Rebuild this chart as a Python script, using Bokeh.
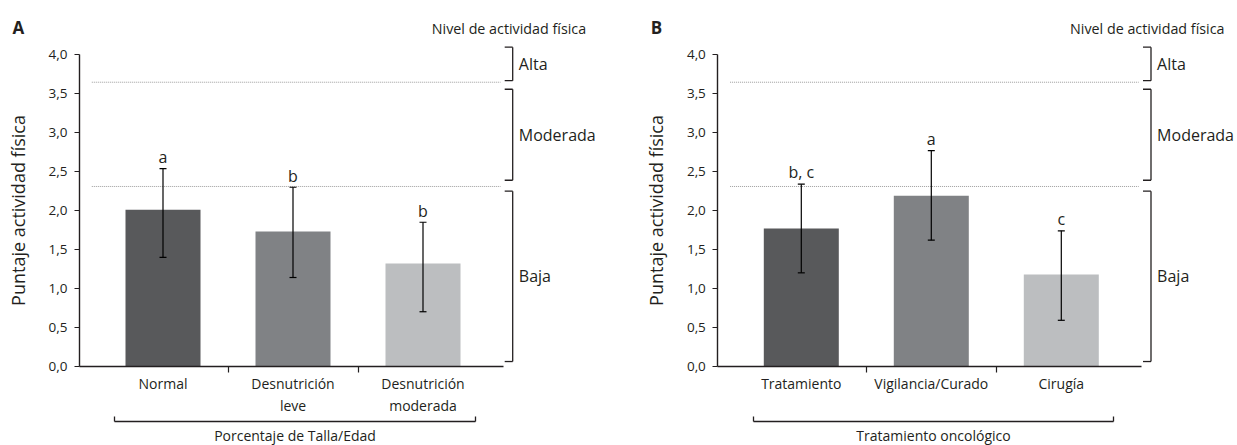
from bokeh.plotting import figure
from bokeh.models import (ColumnDataSource, FixedTicker, CustomJSTickFormatter,
                          LinearAxis, Range1d)
from bokeh.layouts import row
from bokeh.embed import file_html
from bokeh.resources import INLINE
from bokeh.core.properties import value

# ---------------- data ----------------
cats_a = ["Normal", "Desnutrición\nleve", "Desnutrición\nmoderada"]
means_a = [2.01, 1.73, 1.32]
lower_a = [1.40, 1.14, 0.70]
upper_a = [2.54, 2.30, 1.85]
letters_a = ["a", "b", "b"]
group_a = "Porcentaje de Talla/Edad"

cats_b = ["Tratamiento", "Vigilancia/Curado", "Cirugía"]
means_b = [1.77, 2.19, 1.18]
lower_b = [1.20, 1.62, 0.59]
upper_b = [2.34, 2.77, 1.74]
letters_b = ["b, c", "a", "c"]
group_b = "Tratamiento oncológico"

bar_colors = ["#58595b", "#808285", "#bcbec0"]
level_names = ["Baja", "Moderada", "Alta"]
level_lo = [0.06, 2.39, 3.67]
level_hi = [2.25, 3.56, 4.10]
cutoffs = [2.31, 3.65]
y_ticks = [0.0, 0.5, 1.0, 1.5, 2.0, 2.5, 3.0, 3.5, 4.0]
level_title = "Nivel de actividad física"
y_title = "Puntaje actividad física"

# ---------------- style ----------------
FONT = "Open Sans"
INK = "#231f20"
PX_X = 130.0           # pixels per category unit
PX_Y = 77.8            # pixels per score unit
H = 445
Y_TOP = 4.7005
Y_BOT = Y_TOP - H / PX_Y
X_AX = (-0.642, 2.617)         # x-axis extent
BRACKET = (-0.371, 2.401)      # bottom bracket extent
BRACKET_Y = -0.711
LEVEL_X = 2.69
DOT_X = (-0.5477, 2.596)


def make_panel(letter, cats, means, lower, upper, letters, group, width, x_start):
    p = figure(width=width, height=H, output_backend="svg", toolbar_location=None,
               title=None, x_range=Range1d(x_start, x_start + width / PX_X),
               y_range=Range1d(Y_BOT, Y_TOP), min_border=0, min_border_left=0,
               min_border_right=0, min_border_top=0, min_border_bottom=0)
    p.outline_line_color = None
    p.grid.visible = False
    p.background_fill_color = "white"
    p.border_fill_color = "white"

    xs = list(range(len(cats)))

    # y axis
    ya = p.yaxis[0]
    ya.fixed_location = X_AX[0]
    ya.ticker = FixedTicker(ticks=y_ticks)
    ya.formatter = CustomJSTickFormatter(code="return tick.toFixed(1).replace('.', ',');")
    ya.bounds = (0, 4)
    ya.axis_line_color = INK
    ya.axis_line_width = 1.4
    ya.major_tick_line_color = INK
    ya.major_tick_line_width = 1.2
    ya.major_tick_out = 5
    ya.major_tick_in = 0
    ya.minor_tick_line_color = None
    ya.major_label_text_font = FONT
    ya.major_label_text_font_size = "13.5px"
    ya.major_label_text_color = INK
    ya.major_label_standoff = 7
    ya.axis_label = y_title
    ya.axis_label_text_font = FONT
    ya.axis_label_text_font_size = "18px"
    ya.axis_label_text_font_style = "normal"
    ya.axis_label_text_color = INK
    ya.axis_label_standoff = 16

    # x axis (categories)
    xa = p.xaxis[0]
    xa.fixed_location = 0
    xa.ticker = FixedTicker(ticks=xs, minor_ticks=[0.5, 1.5])
    xa.major_label_overrides = {i: c for i, c in enumerate(cats)}
    xa.bounds = X_AX
    xa.axis_line_color = INK
    xa.axis_line_width = 1.4
    xa.major_tick_line_color = None
    xa.major_tick_out = 0
    xa.major_tick_in = 0
    xa.minor_tick_line_color = INK
    xa.minor_tick_line_width = 1.2
    xa.minor_tick_out = 6
    xa.minor_tick_in = 0
    xa.major_label_text_font = FONT
    xa.major_label_text_font_size = "14px"
    xa.major_label_text_line_height = 1.15
    xa.major_label_text_color = INK
    xa.major_label_standoff = 2

    # bottom bracket with group label (second x axis)
    ba = LinearAxis(fixed_location=BRACKET_Y, bounds=BRACKET,
                    ticker=FixedTicker(ticks=list(BRACKET)),
                    formatter=CustomJSTickFormatter(code="return '';"))
    ba.axis_line_color = INK
    ba.axis_line_width = 1.3
    ba.major_tick_line_color = INK
    ba.major_tick_line_width = 1.3
    ba.major_tick_in = 5
    ba.major_tick_out = 0
    ba.minor_tick_line_color = None
    ba.major_label_standoff = 0
    ba.axis_label = group
    ba.axis_label_text_font = FONT
    ba.axis_label_text_font_size = "14px"
    ba.axis_label_text_font_style = "normal"
    ba.axis_label_text_color = INK
    ba.axis_label_standoff = 4
    p.add_layout(ba, "below")

    # dotted cut-off lines
    p.segment(x0=[DOT_X[0]] * len(cutoffs), x1=[DOT_X[1]] * len(cutoffs), y0=cutoffs, y1=cutoffs,
              line_color="#9c9c9c", line_width=1, line_dash="1 1")

    # bars
    src = ColumnDataSource(dict(x=xs, top=means, lo=lower, hi=upper, lab=letters,
                                laby=[h + 0.15 for h in upper], color=bar_colors))
    p.vbar(x="x", top="top", width=75 / PX_X, fill_color="color", line_color=None, source=src)

    # error bars
    p.segment(x0="x", x1="x", y0="lo", y1="hi", line_color="black", line_width=1.2, source=src)
    p.scatter(x="x", y="hi", marker="dash", size=7, line_color="black", line_width=1.2, source=src)
    p.scatter(x="x", y="lo", marker="dash", size=7, line_color="black", line_width=1.2, source=src)

    # significance letters
    p.text(x="x", y="laby", text="lab", source=src, text_font=value(FONT), text_font_size="16px",
           text_align="center", text_baseline="middle", text_color=INK)

    # right brackets for activity levels
    tick = 8 / PX_X
    n = len(level_names)
    p.segment(x0=[LEVEL_X] * n, x1=[LEVEL_X] * n, y0=level_lo, y1=level_hi, line_color=INK, line_width=1.3)
    p.segment(x0=[LEVEL_X - tick] * n, x1=[LEVEL_X] * n, y0=level_lo, y1=level_lo, line_color=INK, line_width=1.3)
    p.segment(x0=[LEVEL_X - tick] * n, x1=[LEVEL_X] * n, y0=level_hi, y1=level_hi, line_color=INK, line_width=1.3)
    mids = [(a + b) / 2 for a, b in zip(level_lo, level_hi)]
    p.text(x=[LEVEL_X + 0.047] * n, y=mids, text=level_names, text_font=value(FONT),
           text_font_size="16px", text_align="left", text_baseline="middle", text_color=INK)
    p.text(x=[3.255], y=[4.34], text=[level_title], text_font=value(FONT), text_font_size="14.3px",
           text_align="right", text_baseline="middle", text_color=INK)

    # panel letter
    p.text(x=[X_AX[0] - 0.516], y=[4.355], text=[letter], text_font=value(FONT),
           text_font_size="17px", text_font_style="bold", text_align="left",
           text_baseline="middle", text_color=INK)
    return p


pa = make_panel("A", cats_a, means_a, lower_a, upper_a, letters_a, group_a, 618, -162.5 / PX_X)
pb = make_panel("B", cats_b, means_b, lower_b, upper_b, letters_b, group_b, 619, -(800.8 - 618) / PX_X)

layout = row(pa, pb)
open("out.html", "w").write(file_html(layout, INLINE))
